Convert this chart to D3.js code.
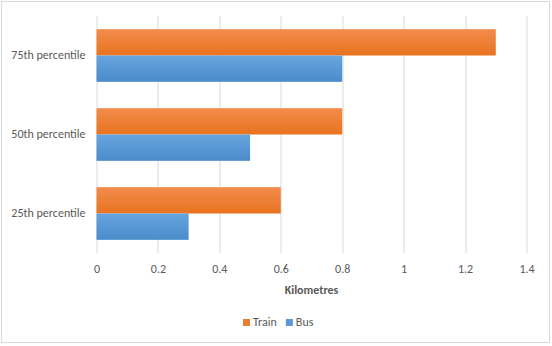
<!DOCTYPE html>
<html>
<head>
<meta charset="utf-8">
<script src="https://cdn.jsdelivr.net/npm/d3@7"></script>
<style>
  html, body { margin: 0; padding: 0; background: #fff; }
  svg { display: block; font-family: Carlito, "Liberation Sans", "Open Sans", sans-serif; }
</style>
</head>
<body>
<svg id="chart" width="552" height="346"></svg>
<script>
// Distance percentiles by mode
const categories = ["75th percentile", "50th percentile", "25th percentile"];
const seriesNames = ["Train", "Bus"];
const trainValues = [1.3, 0.8, 0.6];
const busValues = [0.8, 0.5, 0.3];
const xTicks = [0, 0.2, 0.4, 0.6, 0.8, 1, 1.2, 1.4];
const xTickLabels = ["0", "0.2", "0.4", "0.6", "0.8", "1", "1.2", "1.4"];
const axisTitle = "Kilometres";

const colors = { Train: "#ED7D31", Bus: "#5B9BD5" };
const seriesValues = { Train: trainValues, Bus: busValues };

const svg = d3.select("#chart");
const W = 552, H = 346;
const margin = { left: 96.5, right: 25.5, top: 16, bottom: 93 };
const plotW = W - margin.left - margin.right;
const plotH = H - margin.top - margin.bottom;
const fontStack = 'Carlito, "Liberation Sans", "Open Sans", sans-serif';

// Outer chart border
svg.append("rect")
  .attr("x", 1.5).attr("y", 1.5)
  .attr("width", W - 4).attr("height", H - 5)
  .attr("fill", "#fff").attr("stroke", "#d9d9d9").attr("stroke-width", 1);

// Gradients for bars
const defs = svg.append("defs");
function grad(id, top, bottom) {
  const g = defs.append("linearGradient").attr("id", id)
    .attr("x1", 0).attr("y1", 0).attr("x2", 0).attr("y2", 1);
  g.append("stop").attr("offset", "0%").attr("stop-color", top);
  g.append("stop").attr("offset", "100%").attr("stop-color", bottom);
}
grad("g-Train", "#F28C4C", "#E9731F");
grad("g-Bus", "#67A5DE", "#4A8BCB");

const g = svg.append("g").attr("transform", `translate(${margin.left},${margin.top})`);

const x = d3.scaleLinear().domain([0, 1.4]).range([0, plotW]);
const y = d3.scaleBand().domain(categories).range([0, plotH]).paddingInner(1/3).paddingOuter(1/6);
const ySub = d3.scaleBand().domain(seriesNames).range([0, y.bandwidth()]);

// Vertical gridlines
g.selectAll("line.grid").data(xTicks).join("line")
  .attr("class", "grid")
  .attr("x1", d => Math.round(x(d)) + 0.5).attr("x2", d => Math.round(x(d)) + 0.5)
  .attr("y1", 0).attr("y2", plotH)
  .attr("stroke", "#d9d9d9").attr("stroke-width", 1);

// Bars
categories.forEach((cat, i) => {
  seriesNames.forEach(s => {
    g.append("rect")
      .attr("x", x(0))
      .attr("y", y(cat) + ySub(s))
      .attr("width", x(seriesValues[s][i]) - x(0))
      .attr("height", ySub.bandwidth())
      .attr("fill", `url(#g-${s})`);
  });
});

// X axis tick labels
const xAxis = d3.axisBottom(x).tickValues(xTicks)
  .tickFormat((d, i) => xTickLabels[i]).tickSize(0).tickPadding(11);
const xa = g.append("g").attr("transform", `translate(0,${plotH})`).call(xAxis);
xa.select(".domain").remove();
xa.selectAll("text").attr("fill", "#595959").style("font-size", "12px")
  .style("font-family", fontStack);

// Y axis category labels
const yAxis = d3.axisLeft(y).tickSize(0).tickPadding(11);
const ya = g.append("g").call(yAxis);
ya.select(".domain").remove();
ya.selectAll("text").attr("fill", "#595959").style("font-size", "12px")
  .style("font-family", fontStack);

// Axis title
svg.append("text")
  .attr("x", margin.left + plotW / 2).attr("y", 294)
  .attr("text-anchor", "middle")
  .attr("fill", "#595959").attr("font-weight", "bold").style("font-size", "12px")
  .text(axisTitle);

// Legend
const legend = svg.append("g").attr("transform", "translate(243,326)");
let lx = 0;
seriesNames.forEach(s => {
  legend.append("rect").attr("x", lx).attr("y", -7).attr("width", 7).attr("height", 7)
    .attr("fill", colors[s]);
  const t = legend.append("text").attr("x", lx + 10).attr("y", 0)
    .attr("fill", "#595959").style("font-size", "12px").text(s);
  lx += 10 + t.node().getComputedTextLength() + 9;
});
</script>
</body>
</html>
